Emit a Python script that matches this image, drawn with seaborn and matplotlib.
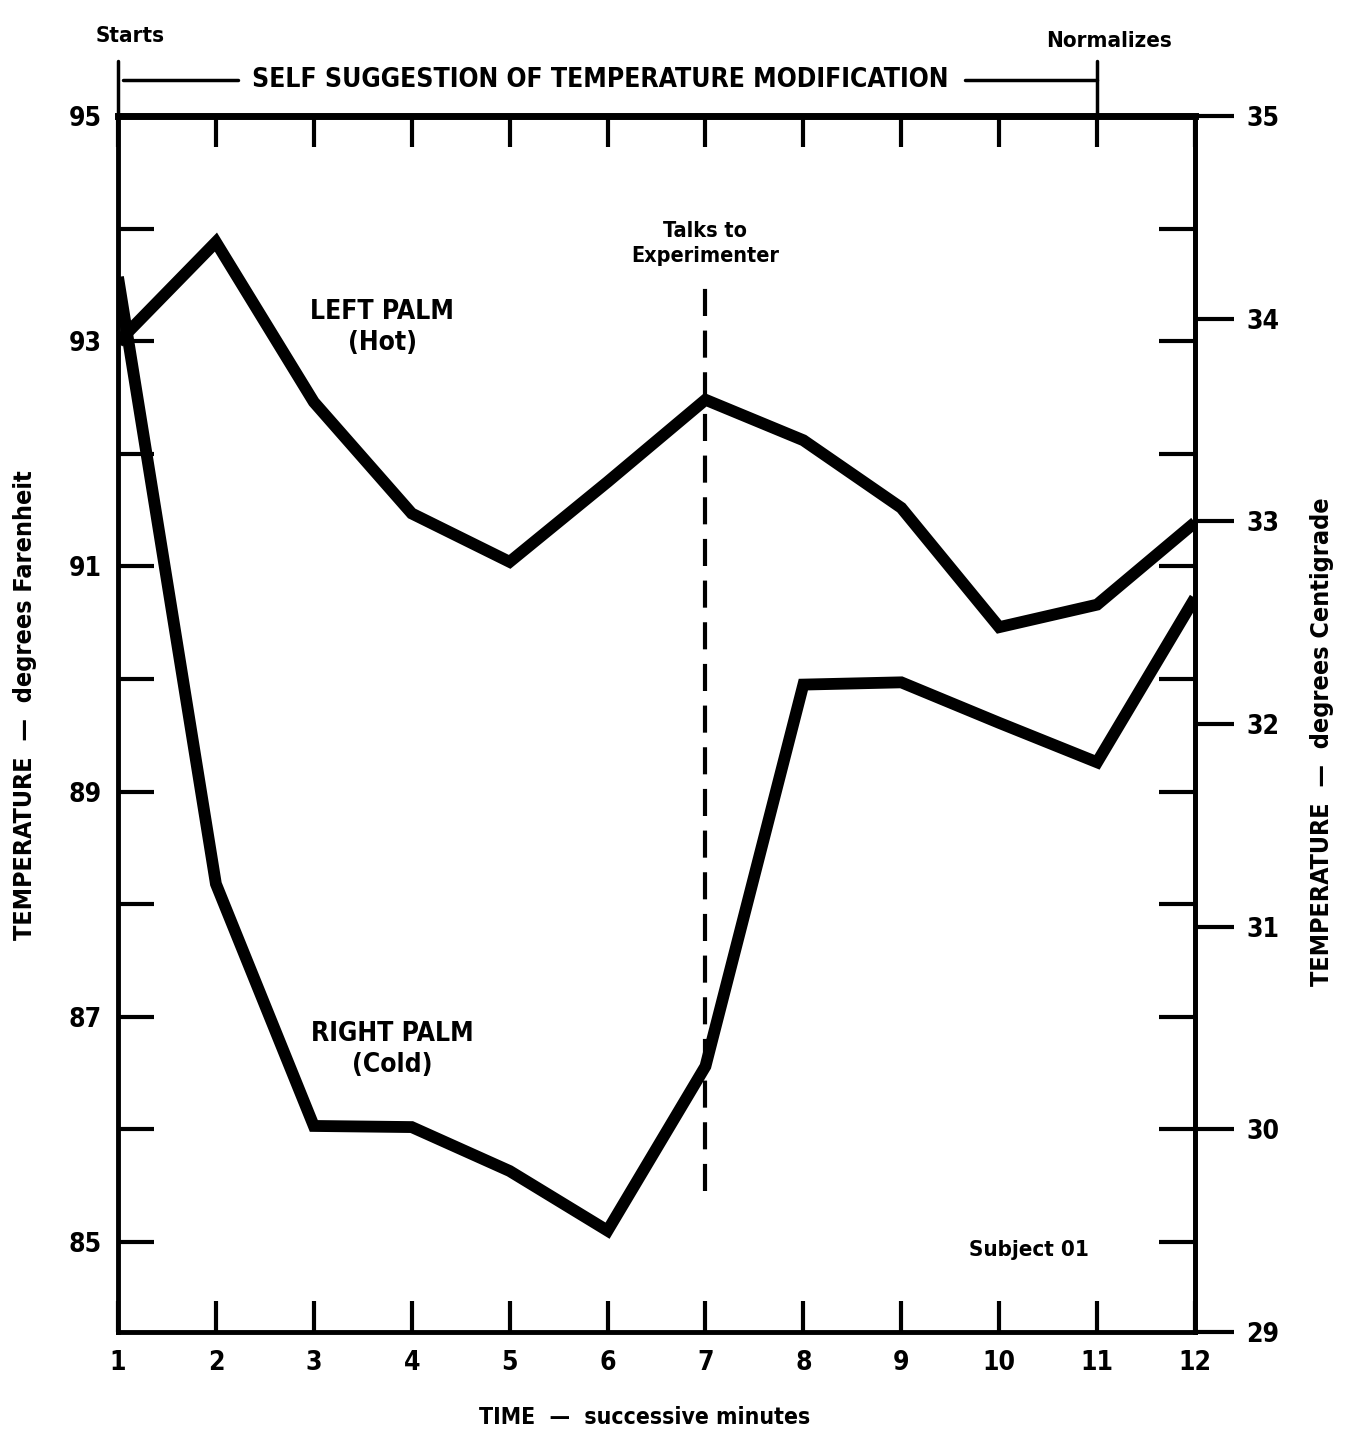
import matplotlib
matplotlib.use("Agg")
import matplotlib.pyplot as plt
import matplotlib.transforms as mtransforms
import numpy as np
import pandas as pd
import seaborn as sns

# --- data -------------------------------------------------------------
minutes = list(range(1, 13))
left_palm_hot = [92.99, 93.88, 92.46, 91.47, 91.04, 91.75, 92.48, 92.12, 91.52, 90.46, 90.66, 91.39]
right_palm_cold = [93.57, 88.18, 86.03, 86.02, 85.63, 85.10, 86.56, 89.95, 89.97, 89.61, 89.26, 90.72]
fahrenheit_ticks = list(range(85, 96))
celsius_ticks = list(range(29, 36))
talk_minute = 7
talk_span = [85.45, 93.47]
start_minute = 1
normal_minute = 11


def f2c(f):
    return (np.asarray(f) - 32.0) * 5.0 / 9.0


def c2f(c):
    return np.asarray(c) * 9.0 / 5.0 + 32.0


sns.set_style("white")
plt.rcParams["font.family"] = ["DejaVu Sans"]
plt.rcParams["font.weight"] = "bold"
plt.rcParams["font.stretch"] = "condensed"
plt.rcParams["text.color"] = "black"
plt.rcParams["axes.labelcolor"] = "black"

fig = plt.figure(figsize=(13.52, 14.4), dpi=100)
ax = fig.add_axes([118 / 1352, 1 - 1332 / 1440, (1195 - 118) / 1352, (1332 - 116) / 1440])

df = pd.DataFrame({
    "minute": minutes * 2,
    "temp": left_palm_hot + right_palm_cold,
    "palm": ["LEFT PALM"] * 12 + ["RIGHT PALM"] * 12,
})
sns.lineplot(data=df, x="minute", y="temp", hue="palm",
             palette=["black", "black"], legend=False, linewidth=8.5,
             solid_joinstyle="miter", solid_capstyle="butt", ax=ax)

# moment the subject talks to the experimenter
ax.plot([talk_minute, talk_minute], talk_span, color="black", lw=3,
        dashes=(6.5, 3.5))

ax.set_xlim(1, 12)
ax.set_ylim(float(c2f(29)), 95)
ax.set_xlabel("")
ax.set_ylabel("")

for side in ["left", "right", "bottom"]:
    ax.spines[side].set_linewidth(3.5)
    ax.spines[side].set_color("black")
ax.spines["top"].set_linewidth(5)
ax.spines["top"].set_color("black")

ax.set_xticks(minutes)
ax.set_xticklabels([str(m) for m in minutes])
ax.tick_params(axis="x", which="major", bottom=True, top=True, direction="in",
               length=22, width=3, pad=13, labelsize=19, colors="black")
ax.set_yticks(fahrenheit_ticks)
ax.set_yticklabels([str(v) if v % 2 else "" for v in fahrenheit_ticks])
ax.tick_params(axis="y", which="major", left=True, right=True, direction="in",
               length=26, width=3, pad=12, labelsize=19, colors="black")

secax = ax.secondary_yaxis("right", functions=(f2c, c2f))
secax.set_yticks(celsius_ticks)
secax.set_yticklabels([str(c) for c in celsius_ticks])
secax.tick_params(direction="out", length=28, width=3, pad=9, labelsize=19, colors="black")
secax.spines["right"].set_linewidth(3.5)

# text inside the plot
ax.text(3.7, 93.12, "LEFT PALM\n(Hot)", ha="center", va="center",
        fontsize=19, linespacing=1.25)
ax.text(3.8, 86.71, "RIGHT PALM\n(Cold)", ha="center", va="center",
        fontsize=19, linespacing=1.25)
ax.text(talk_minute, 93.87, "Talks to\nExperimenter", ha="center", va="center",
        fontsize=15.5, linespacing=1.3)
ax.text(10.3, 84.93, "Subject 01", ha="center", va="center", fontsize=16)

# session bracket above the frame
trans = mtransforms.blended_transform_factory(ax.transData, ax.transAxes)
ax.plot([start_minute, start_minute], [1.0, 1.045], color="black", lw=2.5,
        transform=trans, clip_on=False)
ax.plot([normal_minute, normal_minute], [1.0, 1.045], color="black", lw=2.5,
        transform=trans, clip_on=False)
ax.plot([start_minute + 0.05, 2.23], [1.03, 1.03], color="black", lw=2.5,
        transform=trans, clip_on=False)
ax.plot([9.65, normal_minute], [1.03, 1.03], color="black", lw=2.5,
        transform=trans, clip_on=False)
ax.text(5.93, 1.03, "SELF SUGGESTION OF TEMPERATURE MODIFICATION", transform=trans,
        ha="center", va="center", fontsize=19)
ax.text(start_minute + 0.12, 1.066, "Starts", transform=trans, ha="center",
        va="center", fontsize=16)
ax.text(normal_minute + 0.12, 1.062, "Normalizes", transform=trans, ha="center",
        va="center", fontsize=16)

# axis titles
fig.text(25 / 1352, 1 - 705 / 1440, "TEMPERATURE  —  degrees Farenheit",
         rotation=90, ha="center", va="center", fontsize=18)
fig.text(1322 / 1352, 1 - 742 / 1440, "TEMPERATURE  —  degrees Centigrade",
         rotation=90, ha="center", va="center", fontsize=18)
fig.text(645 / 1352, 1 - 1417 / 1440, "TIME  —  successive minutes",
         ha="center", va="center", fontsize=16.5)

fig.savefig("out.png", dpi=100, facecolor="white")
